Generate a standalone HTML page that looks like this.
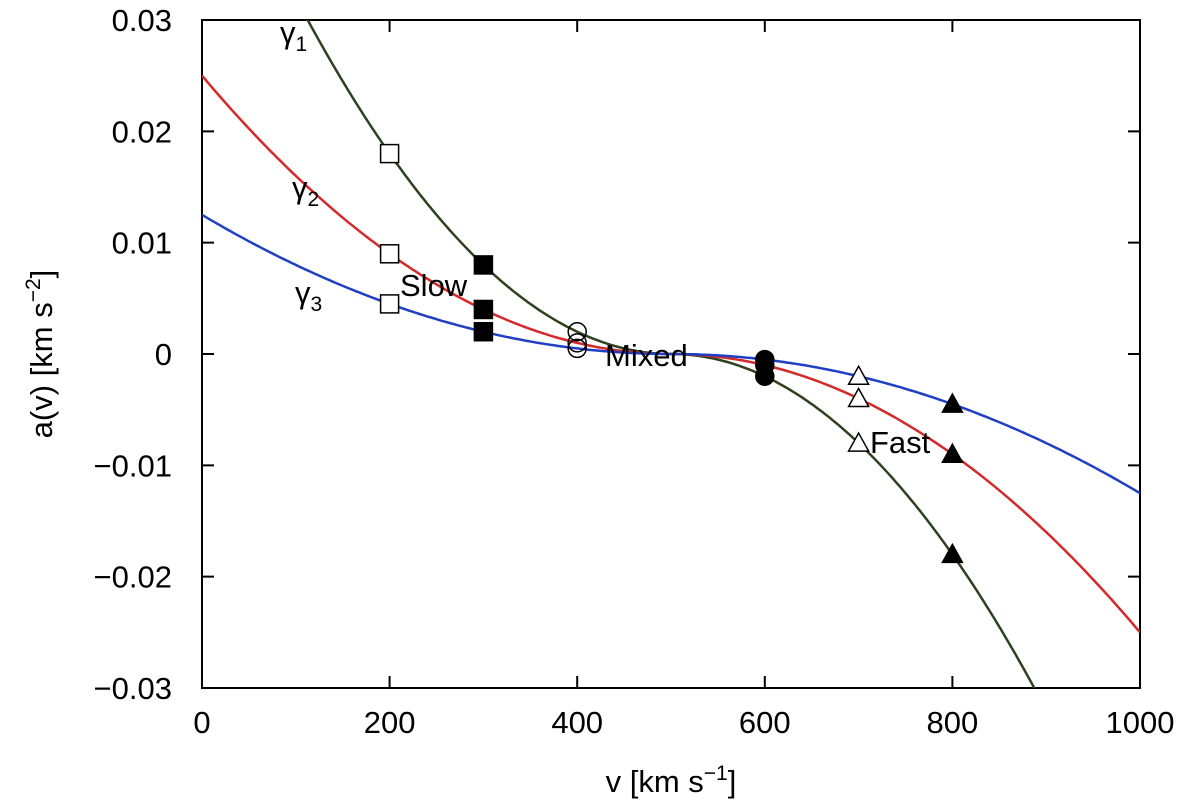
<!DOCTYPE html>
<html><head><meta charset="utf-8"><style>
html,body{margin:0;background:#fff;overflow:hidden;width:1200px;height:812px}
svg{display:block;position:absolute;left:0;top:0}
svg text{font-family:"Liberation Sans",sans-serif;fill:#000}
</style></head><body>
<svg id="chart" width="1200" height="812" xmlns="http://www.w3.org/2000/svg">
<defs><clipPath id="cp"><rect x="202" y="20" width="938" height="668"/></clipPath></defs>
<g id="grid"></g><g id="curves" clip-path="url(#cp)"></g><g id="marks"></g><g id="labels"></g>
<text x="280" y="43" font-size="31">γ<tspan font-size="21" dy="8">1</tspan></text>
<text x="292" y="198" font-size="31">γ<tspan font-size="21" dy="8">2</tspan></text>
<text x="295" y="303" font-size="31">γ<tspan font-size="21" dy="8">3</tspan></text>
<text x="400" y="296" font-size="31">Slow</text>
<text x="605" y="366" font-size="31">Mixed</text>
<text x="870" y="453" font-size="31">Fast</text>
<text x="671" y="792" font-size="31" text-anchor="middle">v [km s<tspan font-size="21" dy="-12">−1</tspan><tspan dy="12">]</tspan></text>
<text transform="translate(52,354) rotate(-90)" font-size="31" text-anchor="middle">a(v) [km s<tspan font-size="21" dy="-12">−2</tspan><tspan dy="12">]</tspan></text>
</svg>
<script>
const xTicks=[0,200,400,600,800,1000];
const yTicks=[0.03,0.02,0.01,0,-0.01,-0.02,-0.03];
const yTickLabels=["0.03","0.02","0.01","0","\u22120.01","\u22120.02","\u22120.03"];
const gammaAmp=[0.05,0.025,0.0125];
const curveColors=["#2e4220","#d42a2a","#1f3fc4"];
const slowV=[200,300];
const slowA=[[0.018,0.009,0.0045],[0.008,0.004,0.002]];
const mixedV=[400,600];
const mixedA=[[0.002,0.001,0.0005],[-0.0005,-0.001,-0.002]];
const fastV=[700,800];
const fastA=[[-0.002,-0.004,-0.008],[-0.0045,-0.009,-0.018]];
const L=202,R=1140,T=20,B=688;
const X=v=>L+(v-0)/1000*(R-L);
const Y=a=>T+(0.03-a)/0.06*(B-T);
const NS="http://www.w3.org/2000/svg";
function mk(tag,attrs,parent,text){const e=document.createElementNS(NS,tag);for(const k in attrs)e.setAttribute(k,attrs[k]);if(text!==undefined)e.textContent=text;document.getElementById(parent).appendChild(e);return e;}
let fr=mk('rect',{x:L,y:T,width:R-L,height:B-T,fill:'none',stroke:'#000','stroke-width':2},'grid');


xTicks.forEach(v=>{
 let t=mk('path',{d:`M${X(v)},${B}v-12M${X(v)},${T}v12`,stroke:'#000','stroke-width':2},'grid');
 
 
 let l=mk('text',{x:X(v),y:733,'font-size':31,'text-anchor':'middle'},'labels',String(v));
 
 
});
yTicks.forEach((a,i)=>{
 let t=mk('path',{d:`M${L},${Y(a)}h12M${R},${Y(a)}h-12`,stroke:'#000','stroke-width':2},'grid');
 
 
 let l=mk('text',{x:172,y:Y(a)+11,'font-size':31,'text-anchor':'end'},'labels',yTickLabels[i]);
 
 
});
gammaAmp.forEach((g,i)=>{
 let d='';
 for(let v=0;v<=1000;v+=4){const x=(v-500)/500;const a=-g*x*Math.abs(x);d+=(d?'L':'M')+X(v).toFixed(1)+','+Y(a).toFixed(1);}
 let p=mk('path',{d,fill:'none',stroke:curveColors[i],'stroke-width':2.5},'curves');
 
 
});
function sq(v,a,fill){let e=mk('rect',{x:X(v)-9,y:Y(a)-9,width:18,height:18,fill:fill?'#000':'#fff',stroke:'#000','stroke-width':1.5},'marks');}
function ci(v,a,fill){let e=mk('circle',{cx:X(v),cy:Y(a),r:9,fill:fill?'#000':'none',stroke:'#000','stroke-width':1.5},'marks');}
function tr(v,a,fill){const x=X(v),y=Y(a);let e=mk('path',{d:`M${x},${y-10}L${x+10},${y+8}L${x-10},${y+8}Z`,fill:fill?'#000':'#fff',stroke:'#000','stroke-width':1.5},'marks');}
slowA.forEach((arr,j)=>arr.forEach(a=>sq(slowV[j],a,j==1)));
mixedA.forEach((arr,j)=>arr.forEach(a=>ci(mixedV[j],a,j==1)));
fastA.forEach((arr,j)=>arr.forEach(a=>tr(fastV[j],a,j==1)));
</script>
</body></html>
